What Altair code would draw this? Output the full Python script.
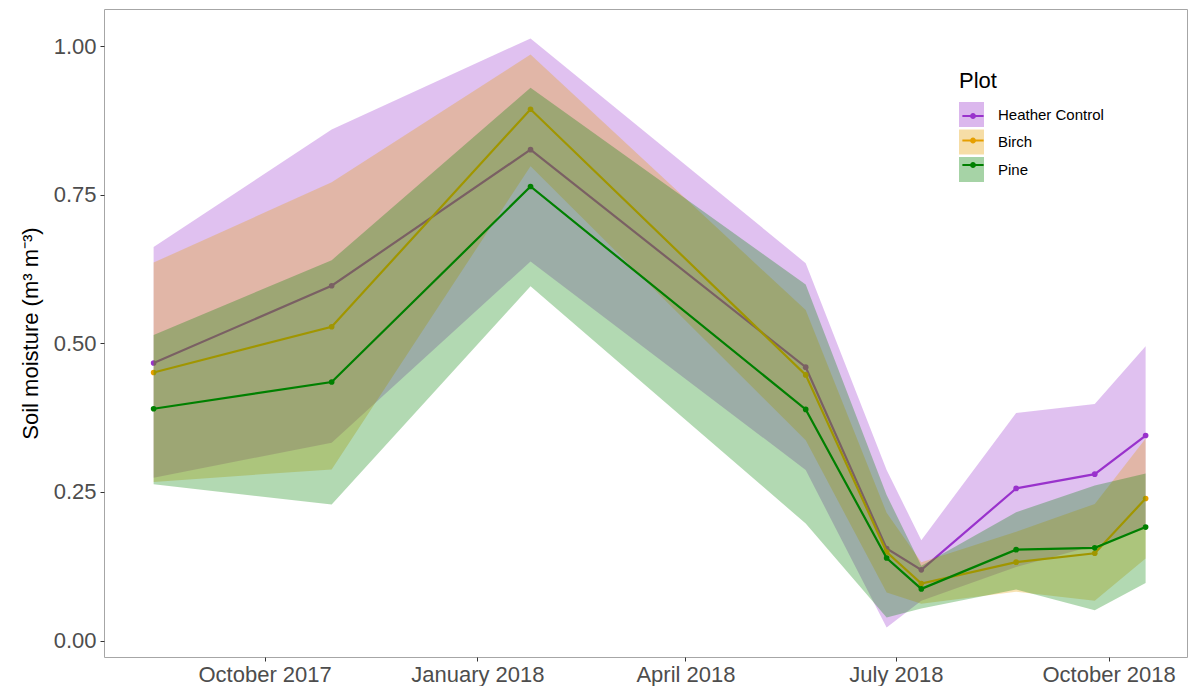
import altair as alt
import pandas as pd

# ---- data ----
dates = ["2017-08-14", "2017-10-30", "2018-01-24", "2018-05-23", "2018-06-27",
         "2018-07-12", "2018-08-22", "2018-09-25", "2018-10-17"]
groups = ["Heather Control", "Birch", "Pine"]
colors = ["#9932CC", "#E69F00", "#008000"]

heather_mean = [0.467, 0.597, 0.826, 0.460, 0.155, 0.119, 0.256, 0.280, 0.345]
heather_lo = [0.274, 0.333, 0.638, 0.287, 0.022, 0.067, 0.124, 0.160, 0.188]
heather_hi = [0.662, 0.860, 1.013, 0.635, 0.287, 0.169, 0.383, 0.398, 0.495]

birch_mean = [0.451, 0.528, 0.894, 0.447, 0.149, 0.096, 0.132, 0.147, 0.239]
birch_lo = [0.267, 0.288, 0.798, 0.337, 0.081, 0.062, 0.082, 0.067, 0.138]
birch_hi = [0.636, 0.771, 0.986, 0.556, 0.215, 0.132, 0.183, 0.230, 0.340]

pine_mean = [0.390, 0.435, 0.764, 0.389, 0.139, 0.087, 0.153, 0.156, 0.191]
pine_lo = [0.263, 0.229, 0.596, 0.197, 0.039, 0.054, 0.086, 0.051, 0.097]
pine_hi = [0.514, 0.640, 0.930, 0.599, 0.245, 0.126, 0.216, 0.261, 0.281]

y_ticks = [0.0, 0.25, 0.5, 0.75, 1.0]

series = {
    "Heather Control": (heather_mean, heather_lo, heather_hi),
    "Birch": (birch_mean, birch_lo, birch_hi),
    "Pine": (pine_mean, pine_lo, pine_hi),
}
line_keys = [g + " " for g in groups]  # separate key so the line legend is not merged
rows = []
for g, lk in zip(groups, line_keys):
    m, lo, hi = series[g]
    for d, a, b, c in zip(dates, m, lo, hi):
        rows.append({"date": d, "plot": g, "plot_line": lk, "mean": a, "lo": b, "hi": c})
df = pd.DataFrame(rows)

FONT = "Liberation Sans"

x_scale = alt.Scale(
    type="utc",
    domain=[alt.DateTime(year=2017, month=7, date=23, hours=13, utc=True),
            alt.DateTime(year=2018, month=11, date=3, hours=21, minutes=30, utc=True)],
)
x_axis = alt.Axis(
    values=[alt.DateTime(year=2017, month=10, date=1, utc=True),
            alt.DateTime(year=2018, month=1, date=1, utc=True),
            alt.DateTime(year=2018, month=4, date=1, utc=True),
            alt.DateTime(year=2018, month=7, date=1, utc=True),
            alt.DateTime(year=2018, month=10, date=1, utc=True)],
    format="%B %Y", title=None, labelPadding=3,
)
y_scale = alt.Scale(domain=[-0.0276, 1.0626], nice=False, zero=False)
y_axis = alt.Axis(values=y_ticks, format=".2f", title="Soil moisture (m³ m⁻³)",
                  labelPadding=4, titlePadding=11)

fill_scale = alt.Scale(domain=groups, range=colors)
line_scale = alt.Scale(domain=line_keys, range=colors)

legend_common = dict(
    orient="none", legendX=855, legendY=62,
    titleFontSize=22, titleFont=FONT, titleFontWeight="normal", titlePadding=9,
    labelFontSize=15, labelFont=FONT, labelOffset=14,
    symbolSize=625, rowPadding=2.5,
)
legend_fill = alt.Legend(title="Plot", symbolType="square", symbolOpacity=0.35,
                         symbolStrokeWidth=0, titleColor="black",
                         labelColor="black", **legend_common)
legend_line = alt.Legend(
    title=" ", labelExpr="''",
    symbolType="M-0.85,0H0.85M-0.15,0A0.15,0.15,0,1,0,0.15,0A0.15,0.15,0,1,0,-0.15,0",
    symbolStrokeWidth=2.2, symbolFillColor="transparent", symbolOpacity=1,
    **legend_common)

base = alt.Chart(df)
layers = []
for g in groups:
    sub = base.transform_filter(alt.datum.plot == g)
    area = sub.mark_area(opacity=0.3).encode(
        x=alt.X("date:T", scale=x_scale, axis=x_axis),
        y=alt.Y("lo:Q", scale=y_scale, axis=y_axis),
        y2="hi:Q",
        fill=alt.Fill("plot:N", scale=fill_scale, legend=legend_fill),
    )
    line = sub.mark_line(strokeWidth=2.2).encode(
        x=alt.X("date:T", scale=x_scale, axis=x_axis),
        y=alt.Y("mean:Q", scale=y_scale, axis=y_axis),
        stroke=alt.Stroke("plot_line:N", scale=line_scale, legend=legend_line),
    )
    pts = sub.mark_circle(size=32, opacity=1).encode(
        x=alt.X("date:T", scale=x_scale, axis=x_axis),
        y=alt.Y("mean:Q", scale=y_scale, axis=y_axis),
        color=alt.Color("plot:N", scale=fill_scale, legend=None),
    )
    layers += [area, line, pts]

chart = alt.layer(*layers).properties(
    width=1083, height=648,
    autosize=alt.AutoSizeParams(type="none"),
    padding={"left": 96, "top": 1, "right": 1, "bottom": 29},
).configure_view(
    stroke="#A6A6A6", strokeWidth=1
).configure_axis(
    labelFont=FONT, labelFontSize=22, labelColor="#4D4D4D",
    titleFont=FONT, titleFontSize=22, titleColor="black", titleFontWeight="normal",
    tickColor="#333333", tickSize=4, domain=False, grid=False,
)

chart.save("out.html", embed_options={"renderer": "svg", "actions": False})
